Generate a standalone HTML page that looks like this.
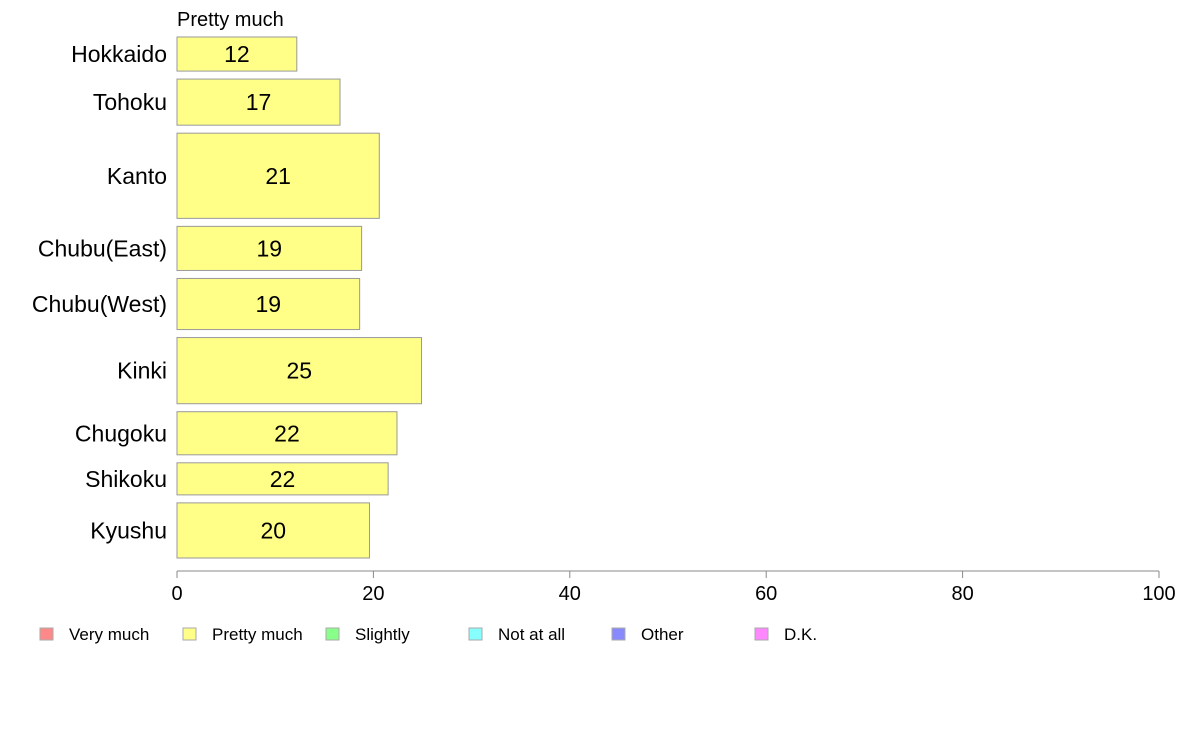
<!DOCTYPE html>
<html><head><meta charset="utf-8"><style>
body{margin:0;background:#fff;font-family:"Liberation Sans",sans-serif}
svg text{font-family:"Liberation Sans",sans-serif}
</style></head><body>
<svg id="chart" width="1188" height="736"></svg>
<script>
const regions=["Hokkaido","Tohoku","Kanto","Chubu(East)","Chubu(West)","Kinki","Chugoku","Shikoku","Kyushu"];
const values=[12.2,16.6,20.6,18.8,18.6,24.9,22.4,21.5,19.6];
const weights=[34,46,85,44,51,66,43,32,55];
const ticks=[0,20,40,60,80,100];
const legendLabels=["Very much","Pretty much","Slightly","Not at all","Other","D.K."];
const legendColors=["#ff8888","#ffff88","#88ff88","#88ffff","#8888ff","#ff88ff"];
const NS="http://www.w3.org/2000/svg";
const svg=document.getElementById('chart');
function mk(t,a,p){const e=document.createElementNS(NS,t);for(const k in a)e.setAttribute(k,a[k]);(p||svg).appendChild(e);return e;}
const x0=177,x1=1159;
const xs=v=>x0+(x1-x0)*v/100;
const barTop=37,barBottom=558,gap=8;
const totalW=weights.reduce((a,b)=>a+b,0);
const avail=barBottom-barTop-gap*(regions.length-1);
let yy=barTop;
const t=mk('text',{x:177,y:26,'font-size':20,fill:'#000'});t.textContent="Pretty much";


regions.forEach((r,i)=>{
  const h=avail*weights[i]/totalW;
  const b=mk('rect',{x:xs(0),y:yy,width:xs(values[i])-xs(0),height:h,fill:'#ffff88',stroke:'#999','stroke-width':1});
  
  
  const v=mk('text',{x:(xs(0)+xs(values[i]))/2,y:yy+h/2+8,'font-size':23,'text-anchor':'middle',fill:'#000'});
  v.textContent=Math.round(values[i]);
  
  
  const l=mk('text',{x:167,y:yy+h/2+8,'font-size':23,'text-anchor':'end',fill:'#000'});
  l.textContent=r;
  
  
  yy+=h+gap;
});
const ax=mk('line',{x1:x0,x2:x1,y1:571,y2:571,stroke:'#888','stroke-width':1});


ticks.forEach(tv=>{
  const tk=mk('line',{x1:xs(tv),x2:xs(tv),y1:571,y2:578,stroke:'#888'});
  
  
  const tl=mk('text',{x:xs(tv),y:600,'font-size':20,'text-anchor':'middle',fill:'#000'});
  tl.textContent=tv;
  
  
});
legendLabels.forEach((lab,i)=>{
  const lx=40+i*143;
  const g=mk('g',{});
  
  
  mk('rect',{x:lx,y:628,width:13,height:12,fill:legendColors[i],stroke:'#aaa'},g);
  const tx=mk('text',{x:lx+29,y:640,'font-size':17,fill:'#000'},g);
  tx.textContent=lab;
});
</script>
</body></html>
